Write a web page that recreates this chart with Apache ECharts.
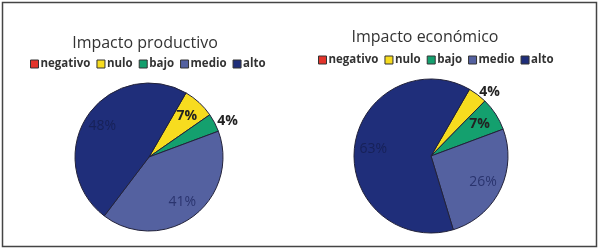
<!DOCTYPE html>
<html>
<head>
<meta charset="utf-8">
<script src="https://cdn.jsdelivr.net/npm/echarts@6/dist/echarts.min.js"></script>
<style>
html,body{margin:0;padding:0;background:#fff;}
#c{width:600px;height:250px;}
</style>
</head>
<body>
<div id="c"></div>
<script>
const categories = ['negativo', 'nulo', 'bajo', 'medio', 'alto'];
const productivoValues = [0, 7, 4, 41, 48];
const economicoValues = [0, 4, 7, 26, 63];
const titles = ['Impacto productivo', 'Impacto económico'];
const colors = ['#e3342b', '#f7dc1f', '#14a06e', '#5461a0', '#1f2e7a'];

// label style per category: outside labels for the small slice next to the edge
const productivoOutside = ['bajo'];
const economicoOutside = ['nulo'];

const FONT = '"Open Sans", sans-serif';

function labelStyleFor(name, value, outsideList) {
  const base = { show: true, formatter: '{c}%', fontSize: 14, fontFamily: FONT };
  if (value === 0) return { show: false };
  if (outsideList.indexOf(name) >= 0) {
    return Object.assign(base, { position: 'outside', color: '#222', fontWeight: 'bold', distanceToLabelLine: 0 });
  }
  if (name === 'nulo' || name === 'bajo') {
    return Object.assign(base, { position: 'inside', color: '#222', fontWeight: 'bold' });
  }
  if (name === 'medio') {
    return Object.assign(base, { position: 'inside', color: '#2a346e' });
  }
  return Object.assign(base, { position: 'inside', color: '#172158' });
}

function baseData(values) {
  return categories.map((n, i) => ({ name: n, value: values[i] }));
}
function labelData(values, outsideList) {
  return categories.map((n, i) => ({ name: n, value: values[i], label: labelStyleFor(n, values[i], outsideList) }));
}

const chart = echarts.init(document.getElementById('c'), null, { renderer: 'canvas' });

const legendCommon = {
  data: categories,
  icon: 'rect',
  itemWidth: 8,
  itemHeight: 8,
  itemGap: 6,
  itemStyle: { borderColor: '#333', borderWidth: 1 },
  textStyle: { fontFamily: FONT, fontWeight: 'bold', fontSize: 11.5, color: '#333', padding: [0, 0, 0, -3] }
};

chart.setOption({
  animation: false,
  color: colors,
  title: [
    { text: titles[0], left: 140, top: 30, textAlign: 'center', textStyle: { fontFamily: FONT, fontWeight: 'normal', fontSize: 16, color: '#333' } },
    { text: titles[1], left: 420, top: 24, textAlign: 'center', textStyle: { fontFamily: FONT, fontWeight: 'normal', fontSize: 16, color: '#333' } }
  ],
  legend: [
    Object.assign({}, legendCommon, { left: 25, top: 53 }),
    Object.assign({}, legendCommon, { left: 313, top: 49 })
  ],
  graphic: [
    { type: 'rect', shape: { x: 2.5, y: 2.5, width: 594, height: 244 }, style: { fill: 'none', stroke: '#444', lineWidth: 1.5 }, z: 100 }
  ],
  series: [
    {
      type: 'pie', center: [149, 157], radius: 74, startAngle: 60, clockwise: true,
      stillShowZeroSum: true, label: { show: false }, labelLine: { show: false },
      itemStyle: { borderColor: '#22223a', borderWidth: 1 },
      emphasis: { disabled: true },
      data: baseData(productivoValues)
    },
    {
      type: 'pie', center: [149, 157], radius: [32, 74], startAngle: 60, clockwise: true,
      silent: true, itemStyle: { color: 'rgba(0,0,0,0)', borderWidth: 0 },
      labelLine: { show: false, length: 3, length2: 0 },
      emphasis: { disabled: true }, z: 5,
      data: labelData(productivoValues, productivoOutside)
    },
    {
      type: 'pie', center: [431, 156], radius: 77, startAngle: 60, clockwise: true,
      stillShowZeroSum: true, label: { show: false }, labelLine: { show: false },
      itemStyle: { borderColor: '#22223a', borderWidth: 1 },
      emphasis: { disabled: true },
      data: baseData(economicoValues)
    },
    {
      type: 'pie', center: [431, 156], radius: [33, 77], startAngle: 60, clockwise: true,
      silent: true, itemStyle: { color: 'rgba(0,0,0,0)', borderWidth: 0 },
      labelLine: { show: false, length: 3, length2: 0 },
      emphasis: { disabled: true }, z: 5,
      data: labelData(economicoValues, economicoOutside)
    }
  ]
});
</script>
</body>
</html>
